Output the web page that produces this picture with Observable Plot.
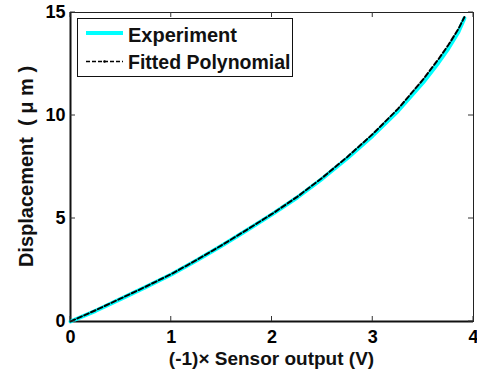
<!DOCTYPE html>
<html>
<head>
<meta charset="utf-8">
<script src="https://cdn.jsdelivr.net/npm/d3@7"></script>
<script src="https://cdn.jsdelivr.net/npm/@observablehq/plot@0.6"></script>
<style>
  html, body { margin: 0; padding: 0; background: #fff; }
  svg { font-family: "Liberation Sans", Arial, sans-serif; font-weight: bold; }
</style>
</head>
<body>
<div id="chart"></div>
<script>
const xValues = [0, 0.25, 0.5, 0.75, 1, 1.25, 1.5, 1.75, 2, 2.25, 2.5, 2.75, 3, 3.25, 3.5, 3.65, 3.75, 3.85, 3.91];
const experimentY = [0, 0.52, 1.1, 1.68, 2.28, 2.96, 3.68, 4.43, 5.2, 6.02, 6.94, 7.94, 9.02, 10.22, 11.6, 12.55, 13.25, 14.05, 14.72];
const fittedY = [0, 0.55, 1.12, 1.7, 2.3, 2.98, 3.7, 4.45, 5.22, 6.05, 6.98, 8.0, 9.1, 10.32, 11.75, 12.72, 13.42, 14.2, 14.78];
const xTicks = [0, 1, 2, 3, 4];
const yTicks = [0, 5, 10, 15];
const seriesNames = ["Experiment", "Fitted Polynomial"];
const xLabel = "(-1)\u00d7 Sensor output (V)";
const yLabel = "Displacement  ( \u03bc m )";

const exp = xValues.map((x, i) => ({x, y: experimentY[i]}));
const fit = xValues.map((x, i) => ({x, y: fittedY[i]}));

const W = 477, H = 375;
const plot = Plot.plot({
  width: W, height: H,
  marginLeft: 70, marginRight: 4, marginTop: 12, marginBottom: 54,
  style: {background: "#fff", fontFamily: "Liberation Sans, Arial, sans-serif", fontWeight: "bold"},
  x: {domain: [0, 4], ticks: xTicks},
  y: {domain: [0, 15], ticks: yTicks},
  marks: [
    Plot.frame({stroke: "#222", strokeWidth: 1}),
    Plot.axisX(xTicks, {anchor: "bottom", tickSize: 0, tickPadding: 9, fontSize: 18, label: null, fill: "#000"}),
    Plot.axisY(yTicks, {anchor: "left", tickSize: 0, tickPadding: 5, fontSize: 18, label: null, fill: "#000"}),
    Plot.ruleX([0], {stroke: "#111", strokeWidth: 2}),
    Plot.ruleY([0], {stroke: "#111", strokeWidth: 2}),
    Plot.line(exp, {x: "x", y: "y", stroke: "#00ffff", strokeWidth: 4}),
    Plot.line(fit, {x: "x", y: "y", stroke: "#000", strokeWidth: 2, strokeDasharray: "5,2.5"})
  ]
});
document.getElementById("chart").appendChild(plot);

// Inward ticks (MATLAB style) on all four sides, placed via the plot's scales
const svg = d3.select(plot);
const sx = plot.scale("x"), sy = plot.scale("y");
const x0 = sx.range[0], x1 = sx.range[1];
const y0 = sy.range[0], y1 = sy.range[1];
const tg = svg.append("g").attr("stroke", "#333").attr("stroke-width", 1);
xTicks.forEach(t => {
  const px = sx.apply(t);
  tg.append("line").attr("x1", px).attr("x2", px).attr("y1", y0).attr("y2", y0 - 5);
  tg.append("line").attr("x1", px).attr("x2", px).attr("y1", y1).attr("y2", y1 + 5);
});
yTicks.forEach(t => {
  const py = sy.apply(t);
  tg.append("line").attr("x1", x0).attr("x2", x0 + 5).attr("y1", py).attr("y2", py);
  tg.append("line").attr("x1", x1).attr("x2", x1 - 5).attr("y1", py).attr("y2", py);
});

// Axis titles
svg.append("text").attr("x", (x0 + x1) / 2).attr("y", 365)
  .attr("text-anchor", "middle").attr("font-size", 19).attr("fill", "#111").text(xLabel);
svg.append("text").attr("transform", `translate(33,${(y0 + y1) / 2}) rotate(-90)`)
  .attr("text-anchor", "middle").attr("font-size", 20).attr("fill", "#111").text(yLabel);

// Legend
const lg = svg.append("g").attr("text-anchor", "start");
lg.append("rect").attr("x", 77.5).attr("y", 18.5).attr("width", 215).attr("height", 58)
  .attr("fill", "#fff").attr("stroke", "#111").attr("stroke-width", 1);
lg.append("line").attr("x1", 86).attr("x2", 123).attr("y1", 33).attr("y2", 33)
  .attr("stroke", "#00ffff").attr("stroke-width", 4);
lg.append("line").attr("x1", 86).attr("x2", 123).attr("y1", 61.5).attr("y2", 61.5)
  .attr("stroke", "#000").attr("stroke-width", 1.5).attr("stroke-dasharray", "4,2");
lg.append("circle").attr("cx", 104.5).attr("cy", 61.5).attr("r", 1.3).attr("fill", "#000");
lg.append("text").attr("x", 128).attr("y", 41.5).attr("text-anchor", "start").attr("font-size", 20).attr("fill", "#111").text(seriesNames[0]);
lg.append("text").attr("x", 128).attr("y", 69).attr("text-anchor", "start").attr("font-size", 19.5).attr("fill", "#111").text(seriesNames[1]);
</script>
</body>
</html>
